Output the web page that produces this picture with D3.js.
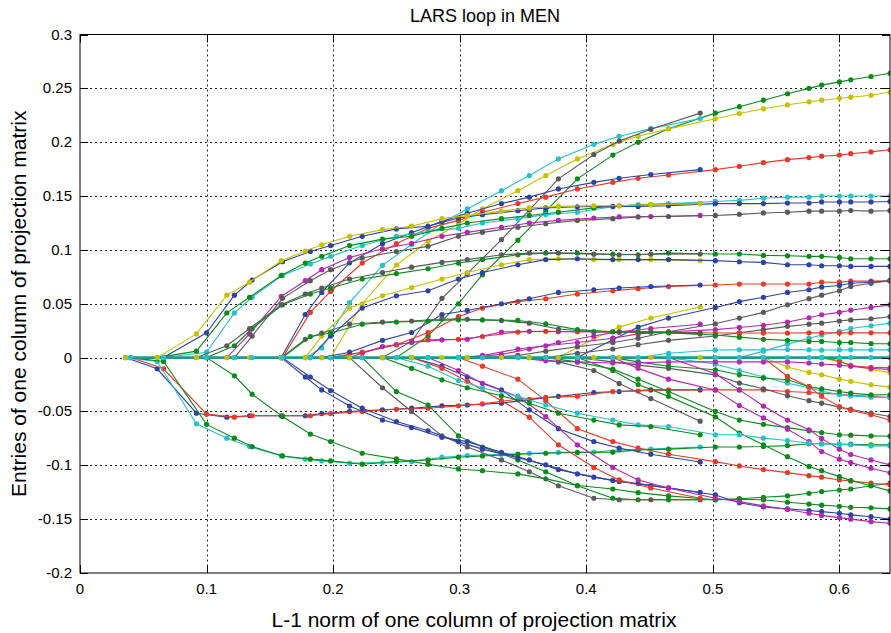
<!DOCTYPE html>
<html>
<head>
<meta charset="utf-8">
<script src="https://d3js.org/d3.v7.min.js"></script>
<style>
  body { margin: 0; background: #fff; }
  svg text { font-family: "Liberation Sans", Arial, sans-serif; fill: #000; }
</style>
</head>
<body>
<svg id="chart" width="891" height="633"></svg>
<script>
// L1 norms at which the two runs take a step
var stepsA = [0.036, 0.061, 0.092, 0.116, 0.134, 0.159, 0.178, 0.191, 0.213, 0.239, 0.262, 0.286, 0.306, 0.333, 0.355, 0.378, 0.406, 0.426, 0.451, 0.490];
var stepsB = [0.040, 0.066, 0.100, 0.122, 0.136, 0.160, 0.182, 0.198, 0.223, 0.250, 0.275, 0.299, 0.318, 0.346, 0.368, 0.393, 0.421, 0.441, 0.465,
              0.502, 0.521, 0.540, 0.559, 0.576, 0.586, 0.600, 0.609, 0.625, 0.640];

var xTicks = [0, 0.1, 0.2, 0.3, 0.4, 0.5, 0.6];
var yTicks = [-0.2, -0.15, -0.1, -0.05, 0, 0.05, 0.1, 0.15, 0.2, 0.25, 0.3];
var xTickLabels = ["0", "0.1", "0.2", "0.3", "0.4", "0.5", "0.6"];
var yTickLabels = ["-0.2", "-0.15", "-0.1", "-0.05", "0", "0.05", "0.1", "0.15", "0.2", "0.25", "0.3"];

var colours = { b: "#2f43a3", g: "#0c8a1c", r: "#e63b2a", c: "#27c2c9", m: "#b228b0", y: "#c6c000", k: "#5a5a5a" };

// entries, each starting at 0 on the step where it enters
var greenTop     = [0, 0.02, 0.05, 0.077, 0.109, 0.136, 0.166, 0.188, 0.200, 0.2125, 0.227, 0.233, 0.239, 0.245, 0.25, 0.253, 0.256, 0.258, 0.261, 0.264];
var yellowTop    = [0, 0.05, 0.086, 0.108, 0.124, 0.138, 0.155, 0.169, 0.1845, 0.198, 0.2055, 0.2124, 0.2217, 0.2266, 0.231, 0.2347, 0.2375, 0.239, 0.2408, 0.2418, 0.2436, 0.2464];
var cyanTop      = [0, 0.009, 0.051, 0.0856, 0.105, 0.125, 0.138, 0.155, 0.169, 0.1845, 0.198, 0.2055, 0.2126, 0.222];
var grayTop      = [0, 0.015, 0.055, 0.078, 0.1095, 0.137, 0.166, 0.1885, 0.201, 0.212, 0.227];
var redHigh      = [0, 0.042, 0.0614, 0.0878, 0.1058, 0.12, 0.1274, 0.135, 0.143, 0.149, 0.1566, 0.1627, 0.1665, 0.1696, 0.1745, 0.1776, 0.181, 0.1838, 0.1857, 0.187, 0.188, 0.1893, 0.191, 0.193];
var blueHigh     = [0, 0.04, 0.0605, 0.088, 0.1058, 0.116, 0.1265, 0.134, 0.143, 0.149, 0.1566, 0.1627, 0.1665, 0.170, 0.1745];
var cyanUp       = [0, 0.005, 0.0415, 0.056, 0.0763, 0.087, 0.094, 0.104, 0.1126, 0.117, 0.120, 0.125, 0.129, 0.1327, 0.135, 0.140, 0.142, 0.143, 0.145, 0.146, 0.148, 0.149, 0.149, 0.150, 0.150, 0.150, 0.150, 0.150];
var greenUp      = [0, 0.006, 0.0415, 0.056, 0.0763, 0.0878, 0.094, 0.104, 0.110, 0.1126, 0.120, 0.125, 0.129, 0.132, 0.135, 0.139, 0.141, 0.142, 0.143];
var blueUp       = [0, 0.023, 0.058, 0.072, 0.089, 0.0986, 0.104, 0.1126, 0.1195, 0.122, 0.1296, 0.1327, 0.1364, 0.139, 0.140, 0.1404, 0.1404, 0.141, 0.143, 0.143, 0.143, 0.1435, 0.1435, 0.1445, 0.1445, 0.1445, 0.1445, 0.145];
var yellowUp     = [0, 0.022, 0.058, 0.070, 0.090, 0.099, 0.1048, 0.1126, 0.1188, 0.122, 0.129, 0.1318, 0.136, 0.139, 0.1404, 0.141, 0.141, 0.142, 0.143];
var magentaUp    = [0, 0.022, 0.0568, 0.0714, 0.0816, 0.093, 0.101, 0.106, 0.1126, 0.1163, 0.121, 0.125, 0.1274, 0.1296, 0.1306, 0.131, 0.132];
var grayUp       = [0, 0.02, 0.055, 0.0714, 0.0816, 0.0925, 0.0985, 0.1033, 0.1126, 0.1163, 0.121, 0.1243, 0.1274, 0.129, 0.1306, 0.131, 0.132, 0.133, 0.1343, 0.135, 0.136, 0.136, 0.136, 0.1366, 0.136, 0.1364];
var greenMid     = [0, 0.011, 0.027, 0.049, 0.059, 0.0646, 0.073, 0.078, 0.0825, 0.0878, 0.091, 0.0955, 0.097, 0.097, 0.096, 0.0955, 0.097, 0.0962, 0.0962, 0.0949, 0.0945, 0.094, 0.094, 0.093, 0.0918, 0.0918, 0.0918];
var grayMid      = [0, 0.011, 0.027, 0.049, 0.059, 0.0646, 0.073, 0.079, 0.084, 0.0884, 0.091, 0.0955, 0.097, 0.097, 0.096, 0.0955, 0.096, 0.0962];
var yellowMid    = [0, 0.02, 0.046, 0.0574, 0.065, 0.073, 0.079, 0.0862, 0.091, 0.0918, 0.091, 0.091, 0.091, 0.090];
var blueMid      = [0, 0.02, 0.046, 0.0574, 0.062, 0.073, 0.079, 0.0862, 0.091, 0.0918, 0.091, 0.091, 0.091, 0.090, 0.089, 0.0884, 0.0862, 0.0862, 0.0853, 0.0853, 0.0847, 0.0847, 0.0847];
var redLow       = [0, 0.005, 0.012, 0.0233, 0.038, 0.046, 0.052, 0.0546, 0.059, 0.062, 0.064, 0.066, 0.0674, 0.0683, 0.0683, 0.0683, 0.0683, 0.070, 0.070, 0.071, 0.071, 0.0714];
var blueLow      = [0, 0.005, 0.016, 0.0233, 0.040, 0.0438, 0.050, 0.0546, 0.0605, 0.063, 0.0646, 0.066, 0.0674];
var yellowLate   = [0, 0.0175, 0.0283, 0.0367, 0.047];
var blueLate     = [0, 0.0165, 0.0283, 0.0367, 0.0466, 0.052, 0.056, 0.0605, 0.063, 0.0655, 0.067, 0.069, 0.070, 0.0714];
var grayLate     = [0, 0.002, 0.006, 0.01, 0.014, 0.018, 0.024, 0.0314, 0.0367, 0.042, 0.049, 0.0547, 0.058, 0.062, 0.066, 0.069, 0.0714];
var magentaLate  = [0, 0.002, 0.008, 0.011, 0.014, 0.018, 0.022, 0.024, 0.026, 0.028, 0.030, 0.033, 0.037, 0.0398, 0.042, 0.044, 0.0466, 0.049];
var magentaShort = [0, 0.003, 0.008, 0.014, 0.02, 0.024, 0.027, 0.031];
var grayLate2    = [0, 0.004, 0.008, 0.012, 0.016, 0.020, 0.023, 0.026, 0.029, 0.031, 0.032, 0.034, 0.035, 0.036, 0.038];
var cyanLate     = [0, 0.006, 0.0125, 0.018, 0.021, 0.0243, 0.027, 0.0295, 0.032];
var redFlat      = [0, 0.0047, 0.012, 0.0165, 0.017, 0.0196, 0.0237, 0.0244, 0.024, 0.024, 0.0237, 0.0237, 0.0228, 0.0228, 0.0228, 0.0228, 0.023, 0.023, 0.023, 0.023, 0.023, 0.023];
var magentaFlat  = [0, 0.0103, 0.014, 0.0165, 0.017, 0.0237, 0.0244, 0.024, 0.024, 0.0237, 0.0237, 0.022];
var grayFlat     = [0, 0.017, 0.0228, 0.031, 0.033, 0.034, 0.0358, 0.0355, 0.0345, 0.032, 0.0265, 0.024, 0.0237, 0.0237, 0.023];
var greenFlat    = [0, 0.0196, 0.0228, 0.031, 0.033, 0.034, 0.0351, 0.035, 0.0345, 0.0314, 0.026, 0.024, 0.0237, 0.023, 0.021, 0.019, 0.017, 0.016, 0.015, 0.015, 0.014, 0.014, 0.013, 0.0128];
var cyanFlat     = [0, 0.004, 0.007, 0.0072, 0.0072, 0.0075, 0.0072, 0.007, 0.0072, 0.0072, 0.0072, 0.0072];

var blueNeg      = [0, -0.0104, -0.0516, -0.0553, -0.054, -0.054, -0.054, -0.052, -0.050, -0.0485, -0.047, -0.0448, -0.044, -0.0423, -0.039, -0.036, -0.0324, -0.0315, -0.030, -0.030];
var redNeg       = [0, -0.0104, -0.0525, -0.0553, -0.054, -0.054, -0.054, -0.052, -0.050, -0.048, -0.047, -0.0448, -0.043, -0.0386, -0.037, -0.036, -0.0315, -0.031, -0.030, -0.030, -0.030, -0.030, -0.0315, -0.0324, -0.033, -0.034, -0.035, -0.036, -0.037];
var cyanNeg      = [0, -0.0036, -0.0615, -0.0748, -0.0826, -0.0913, -0.0943, -0.0959, -0.098, -0.0975, -0.0965, -0.0925, -0.091, -0.0897, -0.0888, -0.088, -0.0878, -0.0857, -0.085, -0.083];
var greenNeg     = [0, -0.0036, -0.062, -0.0748, -0.0826, -0.0913, -0.0943, -0.0959, -0.099, -0.0965, -0.095, -0.0925, -0.0913, -0.0897, -0.0888, -0.088, -0.0878, -0.0857, -0.085, -0.083, -0.083, -0.0826, -0.0817, -0.080, -0.080, -0.0804, -0.0804, -0.081, -0.081];
var greenDown    = [0, -0.0169, -0.034, -0.0547, -0.071, -0.078, -0.0888, -0.094, -0.099, -0.1034, -0.105, -0.108, -0.1126, -0.1188, -0.122, -0.1254, -0.1284, -0.132, -0.131, -0.1297, -0.1284, -0.126, -0.1244, -0.123, -0.122, -0.119, -0.1166];
var grayDown     = [0, -0.028, -0.05, -0.0727, -0.083, -0.095, -0.106, -0.119, -0.1306, -0.132, -0.132, -0.132];
var greenDown2   = [0, -0.0315, -0.044, -0.0727, -0.083, -0.095, -0.106, -0.119, -0.1306, -0.132, -0.132, -0.132, -0.1315, -0.132, -0.1343, -0.136, -0.137, -0.138, -0.139, -0.1395, -0.1405];
var blueDown     = [0, -0.018, -0.0306, -0.047, -0.0594, -0.068, -0.078, -0.085, -0.093, -0.0996, -0.108, -0.114, -0.117, -0.121, -0.1275, -0.1347, -0.1387, -0.1405, -0.142, -0.143, -0.1445, -0.146, -0.1477, -0.150];
var blueDownA    = [0, -0.018, -0.03, -0.045, -0.058, -0.065, -0.074, -0.078, -0.088, -0.095, -0.104, -0.111, -0.115, -0.119, -0.125];
var blueMidDown  = [0, -0.008, -0.018, -0.03, -0.0485, -0.066, -0.078, -0.084, -0.0897, -0.097];
var grayLateDown = [0, -0.004, -0.007, -0.01, -0.016, -0.0237, -0.029, -0.0355, -0.040, -0.0423, -0.046, -0.048, -0.0516, -0.0547];
var redSteep     = [0, -0.01, -0.022, -0.04, -0.0553, -0.081, -0.102, -0.1136, -0.121, -0.1306];
var redSteepB    = [0, -0.008, -0.02, -0.04, -0.066, -0.078, -0.084, -0.0897, -0.0966, -0.1006, -0.104, -0.1068, -0.1096, -0.111, -0.1136, -0.1145, -0.1166, -0.118];
var magentaSteep = [0, -0.012, -0.024, -0.036, -0.0547, -0.081, -0.102, -0.1136, -0.121, -0.1306, -0.1337, -0.1377, -0.141, -0.1445, -0.1465, -0.1486, -0.150, -0.1523, -0.1538];
var greenLateDown  = [0, -0.012, -0.025, -0.036, -0.055, -0.07, -0.081, -0.092, -0.101, -0.105, -0.1105, -0.1142, -0.119, -0.1238];
var greenLateFlat  = [0, -0.004, -0.0107, -0.02, -0.0315, -0.050, -0.058, -0.062, -0.065, -0.068, -0.0696, -0.0717, -0.072, -0.0727, -0.073];
var grayShortDown  = [0, -0.004, -0.012, -0.024, -0.038, -0.059];
var cyanLateDown   = [0, -0.006, -0.012, -0.018, -0.0237, -0.028, -0.031, -0.0346, -0.0355, -0.0367, -0.037];
var greenLateDown2 = [0, -0.004, -0.008, -0.0113, -0.016, -0.019, -0.0206, -0.027, -0.029, -0.0315, -0.033, -0.0346, -0.0345];
var yellowLateDown = [0, -0.0088, -0.0138, -0.016, -0.020, -0.022, -0.0253, -0.0274];
var yellowLateDown2 = [0, -0.004, -0.007, -0.011, -0.014];
var redLateDown    = [0, -0.0175, -0.027, -0.036, -0.0454, -0.049, -0.053, -0.058];
var redLateNear    = [0, -0.003, -0.0076, -0.009, -0.0095];
var magentaNear    = [0, -0.003, -0.004, -0.005, -0.005, -0.004, -0.004, -0.004, -0.004, -0.004, -0.005, -0.006, -0.007, -0.008, -0.01, -0.011];
var magentaLateDown  = [0, -0.01, -0.02, -0.030, -0.0445, -0.056, -0.0665, -0.078, -0.0873, -0.0943, -0.0975, -0.1027, -0.107];
var magentaLateDown2 = [0, -0.015, -0.03, -0.045, -0.058, -0.067, -0.075, -0.085, -0.09, -0.095, -0.0996];
var cyanMidDown    = [0, -0.008, -0.0213, -0.0283, -0.036, -0.044, -0.0516, -0.058, -0.0625, -0.064, -0.0717, -0.0717, -0.0748, -0.077, -0.0795, -0.080, -0.0805, -0.081, -0.082, -0.082];
var greenMidDown   = [0, -0.01, -0.0206, -0.028, -0.0355, -0.0423, -0.0516, -0.058, -0.0625, -0.064, -0.0717];

// values, run, index of entry step, colour
var paths = [
  [greenTop, "B", 9, "g"], [yellowTop, "B", 7, "y"], [cyanTop, "A", 6, "c"], [grayTop, "A", 9, "k"],
  [redHigh, "B", 5, "r"], [blueHigh, "A", 5, "b"], [cyanUp, "B", 1, "c"], [greenUp, "A", 1, "g"],
  [blueUp, "B", 1, "b"], [yellowUp, "A", 1, "y"], [magentaUp, "A", 3, "m"], [grayUp, "B", 3, "k"],
  [greenMid, "B", 2, "g"], [grayMid, "A", 2, "k"], [yellowMid, "A", 6, "y"], [blueMid, "B", 6, "b"],
  [redLow, "B", 7, "r"], [blueLow, "A", 7, "b"], [yellowLate, "A", 15, "y"], [blueLate, "B", 15, "b"],
  [grayLate, "B", 12, "k"], [magentaLate, "B", 11, "m"], [magentaShort, "A", 12, "m"], [grayLate2, "B", 14, "k"],
  [cyanLate, "B", 20, "c"], [redFlat, "B", 7, "r"], [magentaFlat, "A", 8, "m"], [grayFlat, "A", 5, "k"],
  [greenFlat, "B", 5, "g"], [cyanFlat, "B", 17, "c"],
  [blueNeg, "A", 0, "b"], [redNeg, "B", 0, "r"], [cyanNeg, "A", 0, "c"], [greenNeg, "B", 0, "g"],
  [greenDown, "B", 2, "g"], [grayDown, "A", 8, "k"], [greenDown2, "B", 8, "g"], [blueDown, "B", 5, "b"],
  [blueDownA, "A", 5, "b"], [blueMidDown, "A", 10, "b"], [grayLateDown, "B", 15, "k"], [redSteep, "A", 10, "r"],
  [redSteepB, "B", 11, "r"], [magentaSteep, "B", 10, "m"], [greenLateDown, "B", 15, "g"], [greenLateFlat, "B", 14, "g"],
  [grayShortDown, "A", 14, "k"], [cyanLateDown, "B", 18, "c"], [greenLateDown2, "B", 16, "g"], [yellowLateDown, "B", 21, "y"],
  [yellowLateDown2, "B", 24, "y"], [redLateDown, "B", 21, "r"], [redLateNear, "B", 24, "r"], [magentaNear, "B", 13, "m"],
  [magentaLateDown, "B", 16, "m"], [magentaLateDown2, "B", 18, "m"], [cyanMidDown, "B", 9, "c"], [greenMidDown, "A", 9, "g"]
];

var svg = d3.select("#chart");
var plotL = 80, plotR = 890, plotT = 34.5, plotB = 573;

var x = d3.scaleLinear().domain([0, 0.64]).range([plotL, plotR]);
var y = d3.scaleLinear().domain([-0.2, 0.3]).range([plotB, plotT]);

svg.append("defs").append("clipPath").attr("id", "plotclip")
  .append("rect").attr("x", plotL).attr("y", plotT).attr("width", plotR - plotL).attr("height", plotB - plotT);

// grid
var grid = svg.append("g").attr("stroke", "#222").attr("stroke-dasharray", "2,3").attr("stroke-width", 1);
grid.selectAll("line.v").data(xTicks.slice(1)).join("line")
  .attr("x1", function(d) { return Math.round(x(d)) + 0.5; })
  .attr("x2", function(d) { return Math.round(x(d)) + 0.5; })
  .attr("y1", plotT).attr("y2", plotB);
grid.selectAll("line.h").data(yTicks.slice(1, -1)).join("line")
  .attr("y1", function(d) { return Math.round(y(d)) + 0.5; })
  .attr("y2", function(d) { return Math.round(y(d)) + 0.5; })
  .attr("x1", plotL).attr("x2", plotR);

var plot = svg.append("g").attr("clip-path", "url(#plotclip)");
var line = d3.line().x(function(d) { return x(d[0]); }).y(function(d) { return y(d[1]); });

paths.forEach(function(p) {
  var steps = p[1] === "A" ? stepsA : stepsB;
  var col = colours[p[3]];
  var pts = p[0].map(function(v, i) { return [steps[p[2] + i], v]; });
  var g = plot.append("g");
  g.append("path").datum(pts).attr("d", line)
    .attr("fill", "none").attr("stroke", col).attr("stroke-width", 1.1);
  g.selectAll("circle").data(pts).join("circle")
    .attr("cx", function(d) { return x(d[0]); })
    .attr("cy", function(d) { return y(d[1]); })
    .attr("r", 2.6).attr("fill", col);
});

// entries that are still zero
plot.append("line")
  .attr("x1", x(stepsA[0])).attr("x2", x(0.64))
  .attr("y1", y(0)).attr("y2", y(0))
  .attr("stroke", "#1c9a8c").attr("stroke-width", 2.6);
plot.append("g").selectAll("circle").data(stepsA).join("circle")
  .attr("cx", function(d) { return x(d); }).attr("cy", y(0)).attr("r", 2.6).attr("fill", colours.y);
plot.append("g").selectAll("circle").data(stepsB).join("circle")
  .attr("cx", function(d) { return x(d); }).attr("cy", y(0)).attr("r", 2.6).attr("fill", colours.c);

// box and ticks
svg.append("rect").attr("x", plotL).attr("y", plotT).attr("width", plotR - plotL).attr("height", plotB - plotT)
  .attr("fill", "none").attr("stroke", "#000").attr("stroke-width", 1);
var ticks = svg.append("g").attr("stroke", "#000").attr("stroke-width", 1);
xTicks.forEach(function(d) {
  var px = Math.round(x(d)) + 0.5;
  ticks.append("line").attr("x1", px).attr("x2", px).attr("y1", plotB).attr("y2", plotB - 8);
  ticks.append("line").attr("x1", px).attr("x2", px).attr("y1", plotT).attr("y2", plotT + 8);
});
yTicks.forEach(function(d) {
  var py = Math.round(y(d)) + 0.5;
  ticks.append("line").attr("y1", py).attr("y2", py).attr("x1", plotL).attr("x2", plotL + 8);
  ticks.append("line").attr("y1", py).attr("y2", py).attr("x1", plotR).attr("x2", plotR - 8);
});

svg.append("g").selectAll("text").data(xTicks).join("text")
  .attr("x", function(d) { return x(d); }).attr("y", 594)
  .attr("text-anchor", "middle").attr("font-size", 15)
  .text(function(d, i) { return xTickLabels[i]; });
svg.append("g").selectAll("text").data(yTicks).join("text")
  .attr("x", 72).attr("y", function(d) { return y(d) + 5; })
  .attr("text-anchor", "end").attr("font-size", 15)
  .text(function(d, i) { return yTickLabels[i]; });

svg.append("text").attr("x", 485).attr("y", 22).attr("text-anchor", "middle").attr("font-size", 18)
  .text("LARS loop in MEN");
svg.append("text").attr("x", 474).attr("y", 627).attr("text-anchor", "middle").attr("font-size", 21)
  .text("L-1 norm of one column of projection matrix");
svg.append("text").attr("transform", "translate(26," + ((plotT + plotB) / 2) + ") rotate(-90)")
  .attr("text-anchor", "middle").attr("font-size", 21)
  .text("Entries of one column of projection matrix");
</script>
</body>
</html>
